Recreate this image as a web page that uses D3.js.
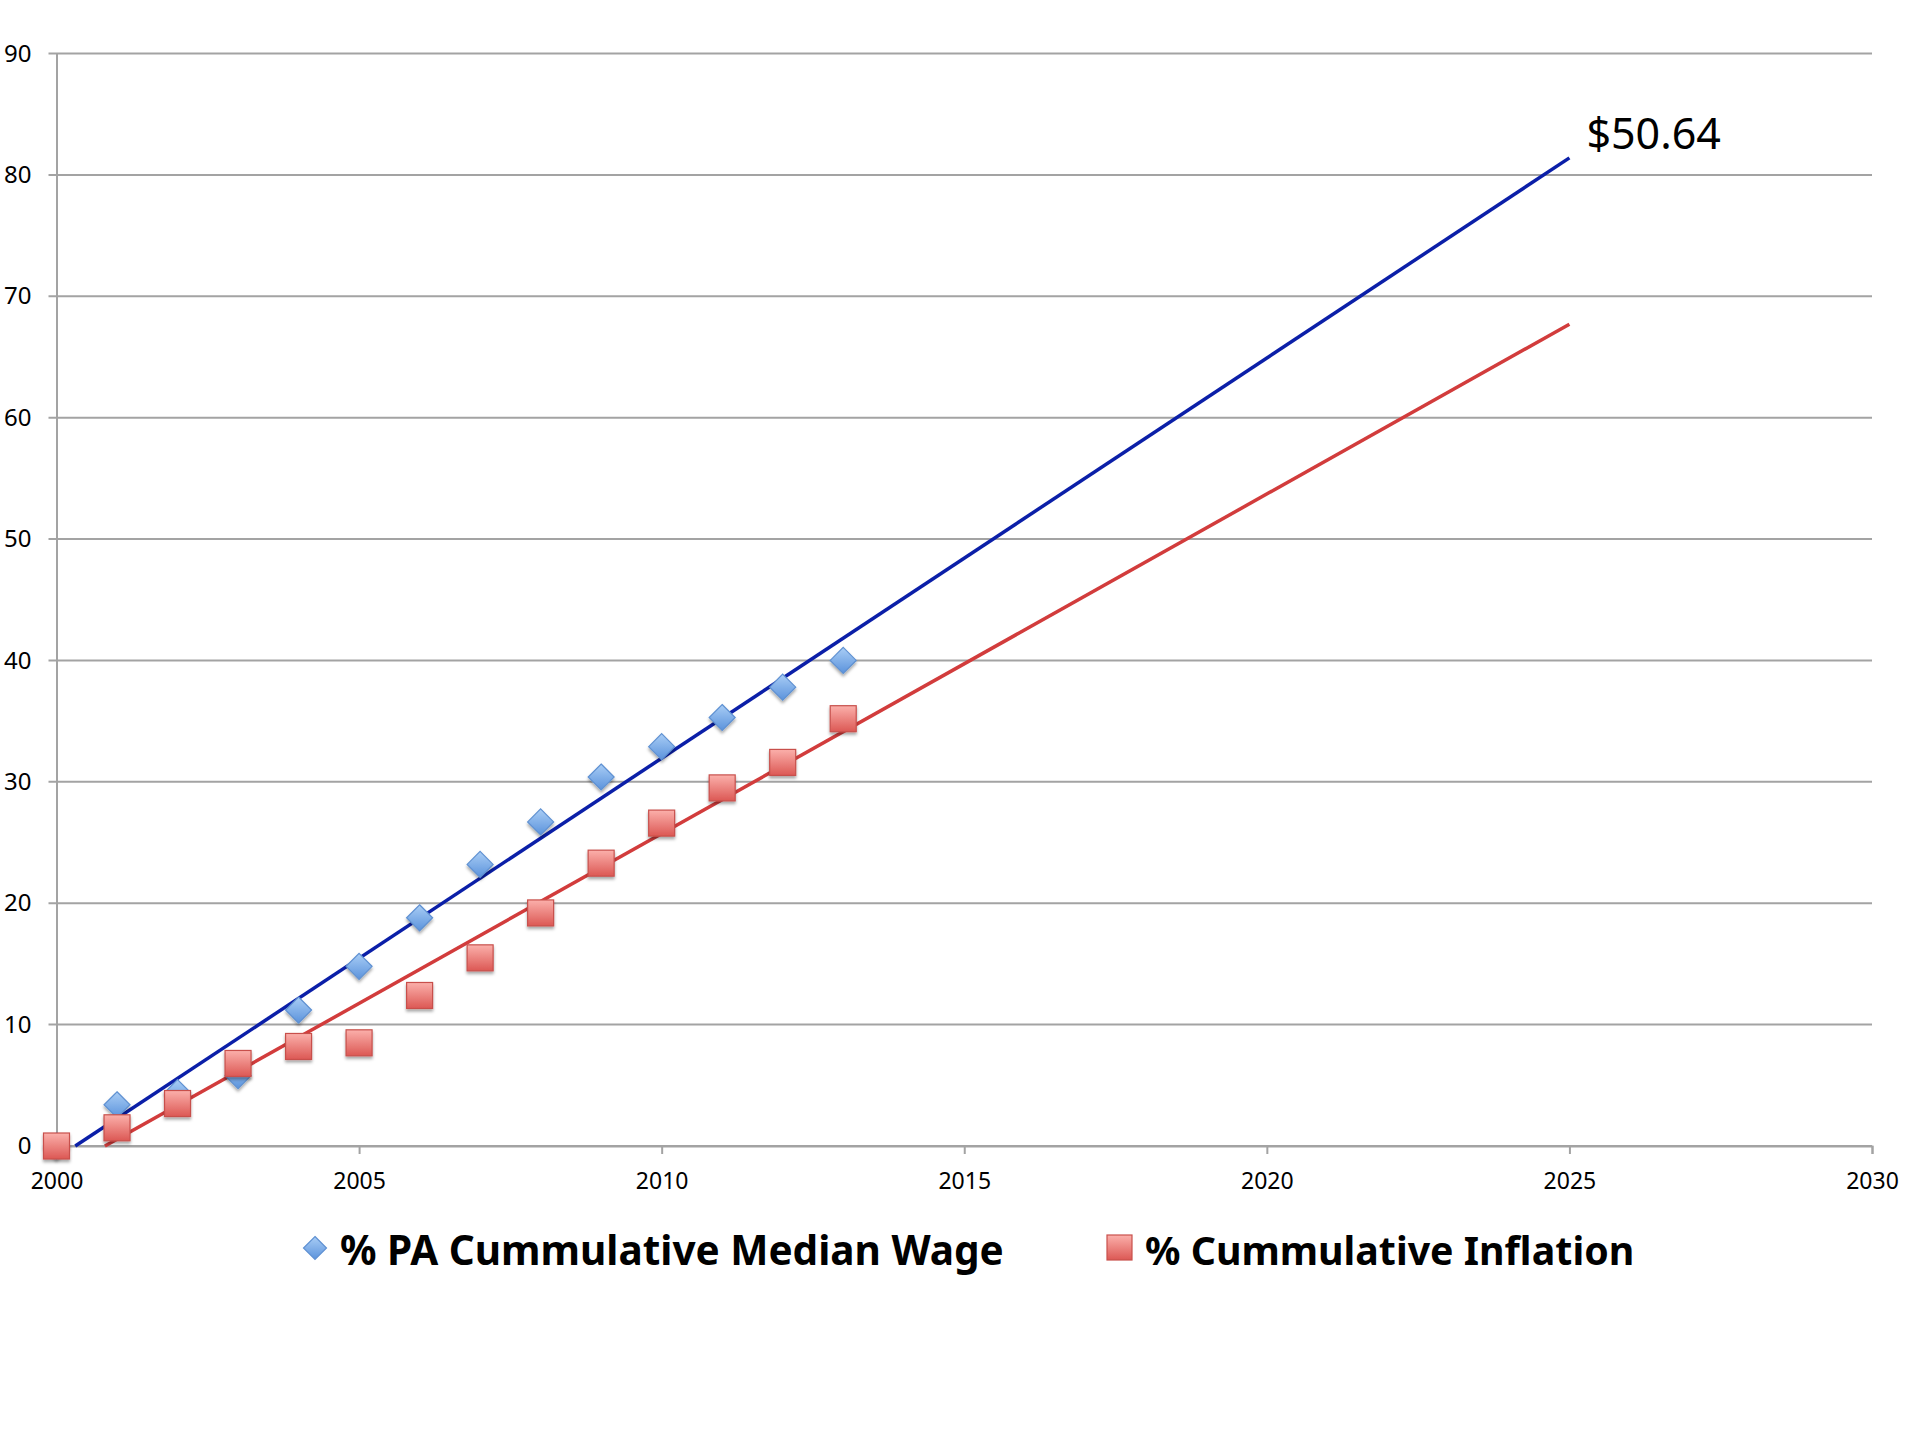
<!DOCTYPE html>
<html>
<head>
<meta charset="utf-8">
<script src="https://cdn.jsdelivr.net/npm/d3@7"></script>
<style>
  body{margin:0;background:#fff;}
  svg{display:block;}
</style>
</head>
<body>
<div id="chart"></div>
<script>
// data
var years = [2000,2001,2002,2003,2004,2005,2006,2007,2008,2009,2010,2011,2012,2013];
var wage = [0,3.4,4.4,5.8,11.2,14.8,18.8,23.2,26.7,30.4,32.9,35.3,37.8,40.0];
var inflation = [0,1.5,3.5,6.8,8.2,8.5,12.4,15.5,19.2,23.3,26.6,29.5,31.6,35.2];
// trend lines (start / end)
var wageTrendX = [2000.31,2025];
var wageTrendY = [0,81.4];
var inflTrendX = [2000.8,2025];
var inflTrendY = [0,67.7];
var xTicks = [2000,2005,2010,2015,2020,2025,2030];
var yTicks = [0,10,20,30,40,50,60,70,80,90];
var endLabel = "$50.64";
var legendNames = ["% PA Cummulative Median Wage","% Cummulative Inflation"];

var width=1920;
var height=1440;
var padLeft=56.5,padRight=1872,padTop=53.5,padBottom=1146;
var font="'Noto Sans','Open Sans',sans-serif";

var svg = d3.select("#chart")
    .append("svg")
    .attr("width",width)
    .attr("height",height);

var defs = svg.append("defs");
var gb = defs.append("linearGradient").attr("id","gblue").attr("x1",0).attr("y1",0).attr("x2",0).attr("y2",1);
gb.append("stop").attr("offset","0%").attr("stop-color","#a9cdf5");
gb.append("stop").attr("offset","100%").attr("stop-color","#5b93dc");
var gr = defs.append("linearGradient").attr("id","gred").attr("x1",0).attr("y1",0).attr("x2",0).attr("y2",1);
gr.append("stop").attr("offset","0%").attr("stop-color","#fbb0ab");
gr.append("stop").attr("offset","100%").attr("stop-color","#dc5854");
defs.append("filter").attr("id","shadow")
    .attr("x","-50%").attr("y","-50%").attr("width","200%").attr("height","200%")
    .append("feDropShadow")
    .attr("dx",0).attr("dy",2.5).attr("stdDeviation",1.8)
    .attr("flood-color","#000").attr("flood-opacity",0.35);

var xScale = d3.scaleLinear()
    .domain([2000,2030])
    .range([padLeft,padRight]);

var yScale = d3.scaleLinear()
    .domain([0,90])
    .range([padBottom,padTop]);

// gridlines
svg.append("g")
    .selectAll("line")
    .data(yTicks)
    .enter()
    .append("line")
    .attr("x1",padLeft-8)
    .attr("x2",padRight)
    .attr("y1",function(d){return yScale(d);})
    .attr("y2",function(d){return yScale(d);})
    .attr("stroke","#a3a3a3")
    .attr("stroke-width",2);

var yAxis = d3.axisLeft(yScale).tickValues(yTicks).tickSize(0).tickPadding(25);
svg.append("g")
    .attr("transform","translate("+padLeft+",0)")
    .call(yAxis)
    .call(function(g){g.select(".domain").attr("stroke","#a3a3a3").attr("stroke-width",2);})
    .selectAll("text")
    .attr("font-family",font)
    .attr("font-size",24)
    .attr("fill","#000");

var xAxis = d3.axisBottom(xScale).tickValues(xTicks).tickFormat(d3.format("d")).tickSize(8).tickPadding(19);
svg.append("g")
    .attr("transform","translate(0,"+padBottom+")")
    .call(xAxis)
    .call(function(g){
      g.select(".domain").attr("stroke","#a3a3a3").attr("stroke-width",2);
      g.selectAll(".tick line").attr("stroke","#a3a3a3").attr("stroke-width",2);
    })
    .selectAll("text")
    .attr("font-family",font)
    .attr("font-size",23)
    .attr("fill","#000");

// trend lines
var line = d3.line()
    .x(function(d){return xScale(d[0]);})
    .y(function(d){return yScale(d[1]);});

svg.append("path")
    .datum(d3.zip(wageTrendX,wageTrendY))
    .attr("d",line)
    .attr("fill","none")
    .attr("stroke","#0b1fa8")
    .attr("stroke-width",3.5);

svg.append("path")
    .datum(d3.zip(inflTrendX,inflTrendY))
    .attr("d",line)
    .attr("fill","none")
    .attr("stroke","#d23c3c")
    .attr("stroke-width",3.5);

// markers
var diamond = function(s){
  return "M0,"+(-s)+"L"+s+",0L0,"+s+"L"+(-s)+",0Z";
};

svg.append("g")
    .selectAll("path")
    .data(d3.zip(years,wage))
    .enter()
    .append("path")
    .attr("d",diamond(13))
    .attr("transform",function(d){return "translate("+xScale(d[0])+","+yScale(d[1])+")";})
    .attr("fill","url(#gblue)")
    .attr("stroke","#5f91d2")
    .attr("stroke-width",1.2)
    .attr("filter","url(#shadow)");

svg.append("g")
    .selectAll("rect")
    .data(d3.zip(years,inflation))
    .enter()
    .append("rect")
    .attr("x",function(d){return xScale(d[0])-13;})
    .attr("y",function(d){return yScale(d[1])-13;})
    .attr("width",26)
    .attr("height",26)
    .attr("fill","url(#gred)")
    .attr("stroke","#c8504c")
    .attr("stroke-width",1.2)
    .attr("filter","url(#shadow)");

// end label
svg.append("text")
    .attr("x",xScale(wageTrendX[1])+17)
    .attr("y",yScale(wageTrendY[1])-9)
    .attr("font-family",font)
    .attr("font-size",43)
    .attr("fill","#000")
    .text(endLabel);

// legend
var legend = svg.append("g");
legend.append("path")
    .attr("d",diamond(11.5))
    .attr("transform","translate(315,1248)")
    .attr("fill","url(#gblue)")
    .attr("stroke","#5f91d2")
    .attr("stroke-width",1.2);
legend.append("text")
    .attr("x",340)
    .attr("y",1265)
    .attr("font-family",font)
    .attr("font-weight","bold")
    .attr("font-size",40.5)
    .attr("fill","#000")
    .text(legendNames[0]);
legend.append("rect")
    .attr("x",1107)
    .attr("y",1235)
    .attr("width",25)
    .attr("height",25)
    .attr("fill","url(#gred)")
    .attr("stroke","#c8504c")
    .attr("stroke-width",1.2);
legend.append("text")
    .attr("x",1145)
    .attr("y",1265)
    .attr("font-family",font)
    .attr("font-weight","bold")
    .attr("font-size",39.3)
    .attr("fill","#000")
    .text(legendNames[1]);
</script>
</body>
</html>
